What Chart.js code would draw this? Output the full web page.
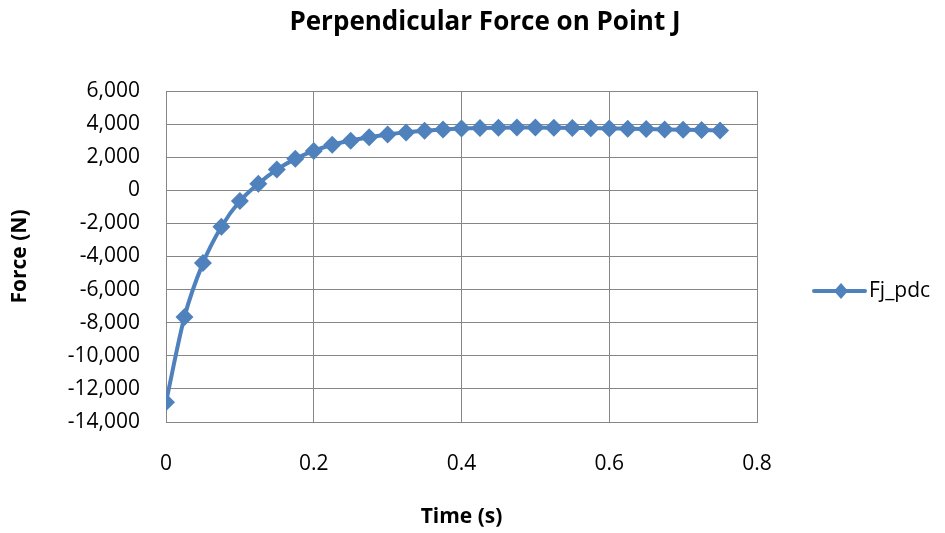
<!DOCTYPE html>
<html>
<head>
<meta charset="utf-8">
<script src="https://cdn.jsdelivr.net/npm/chart.js@4/dist/chart.umd.min.js"></script>
<style>
  html, body { margin: 0; padding: 0; background: #fff; }
  #wrap { width: 945px; height: 533px; }
</style>
</head>
<body>
<div id="wrap"><canvas id="chart" width="945" height="533"></canvas></div>
<script>
// Time samples (s) and perpendicular force values (N)
const TIMES = [0, 0.025, 0.05, 0.075, 0.1, 0.125, 0.15, 0.175, 0.2, 0.225,
    0.25, 0.275, 0.3, 0.325, 0.35, 0.375, 0.4, 0.425, 0.45, 0.475,
    0.5, 0.525, 0.55, 0.575, 0.6, 0.625, 0.65, 0.675, 0.7, 0.725, 0.75];
const FJ_PDC = [-12800, -7650, -4400, -2200, -650, 400, 1250, 1900, 2380, 2750,
    3000, 3200, 3370, 3500, 3600, 3680, 3730, 3760, 3780, 3790,
    3790, 3780, 3770, 3750, 3740, 3720, 3700, 3680, 3660, 3640, 3620];
const SERIES_NAME = 'Fj_pdc';
const TITLE = 'Perpendicular Force on Point J';

const BLUE = '#4F81BD';
const GRID = '#868686';
const FONT = '"Open Sans", Lato, sans-serif';

// Title centred on the whole picture, Excel style
const titlePlugin = {
    id: 'pageTitle',
    afterDraw(chart) {
        const ctx = chart.ctx;
        ctx.save();
        ctx.fillStyle = '#000';
        ctx.font = 'bold 26px ' + FONT;
        ctx.textAlign = 'center';
        ctx.textBaseline = 'alphabetic';
        ctx.fillText(TITLE, 485, 30);
        ctx.restore();
    }
};

// Legend on the right: line with a diamond, then the name
const legendPlugin = {
    id: 'sideLegend',
    afterDraw(chart) {
        const ctx = chart.ctx;
        const y = 291;
        ctx.save();
        ctx.strokeStyle = BLUE;
        ctx.lineWidth = 4;
        ctx.lineCap = 'round';
        ctx.beginPath();
        ctx.moveTo(814, y);
        ctx.lineTo(865, y);
        ctx.stroke();
        ctx.fillStyle = BLUE;
        ctx.beginPath();
        ctx.moveTo(841, y - 8);
        ctx.lineTo(848, y);
        ctx.lineTo(841, y + 8);
        ctx.lineTo(834, y);
        ctx.closePath();
        ctx.fill();
        ctx.fillStyle = '#000';
        ctx.font = '21px ' + FONT;
        ctx.textBaseline = 'alphabetic';
        ctx.textAlign = 'left';
        ctx.fillText(SERIES_NAME, 869, 297);
        ctx.restore();
    }
};

new Chart(document.getElementById('chart').getContext('2d'), {
    type: 'line',
    data: {
        datasets: [{
            label: SERIES_NAME,
            data: TIMES.map((t, i) => ({ x: t, y: FJ_PDC[i] })),
            borderColor: BLUE,
            backgroundColor: BLUE,
            borderWidth: 4,
            pointStyle: 'rectRot',
            pointRadius: 9,
            pointHoverRadius: 9,
            pointBorderWidth: 0,
            cubicInterpolationMode: 'monotone'
        }]
    },
    options: {
        responsive: false,
        animation: false,
        layout: { padding: { left: 0, right: 188, top: 91, bottom: 0 } },
        plugins: {
            legend: { display: false },
            tooltip: { enabled: false },
            title: { display: false }
        },
        scales: {
            x: {
                type: 'linear',
                min: 0,
                max: 0.8,
                ticks: {
                    stepSize: 0.2,
                    padding: 29,
                    color: '#000',
                    font: { family: FONT, size: 21 },
                    callback: v => String(Math.round(v * 10) / 10)
                },
                grid: { color: GRID, lineWidth: 1, drawTicks: false },
                border: { color: GRID },
                title: {
                    display: true,
                    text: 'Time (s)',
                    color: '#000',
                    font: { family: FONT, size: 21, weight: 'bold' },
                    padding: { top: 14, bottom: 3 }
                },
                afterFit: scale => { scale.height = 111; }
            },
            y: {
                min: -14000,
                max: 6000,
                ticks: {
                    stepSize: 2000,
                    padding: 26,
                    color: '#000',
                    font: { family: FONT, size: 21 },
                    callback: v => v.toLocaleString('en-US')
                },
                grid: { color: GRID, lineWidth: 1, drawTicks: false },
                border: { color: GRID },
                title: {
                    display: true,
                    text: 'Force (N)',
                    color: '#000',
                    font: { family: FONT, size: 21, weight: 'bold' },
                    padding: { top: 7, bottom: 4 }
                },
                afterFit: scale => { scale.width = 166; }
            }
        }
    },
    plugins: [titlePlugin, legendPlugin]
});
</script>
</body>
</html>
